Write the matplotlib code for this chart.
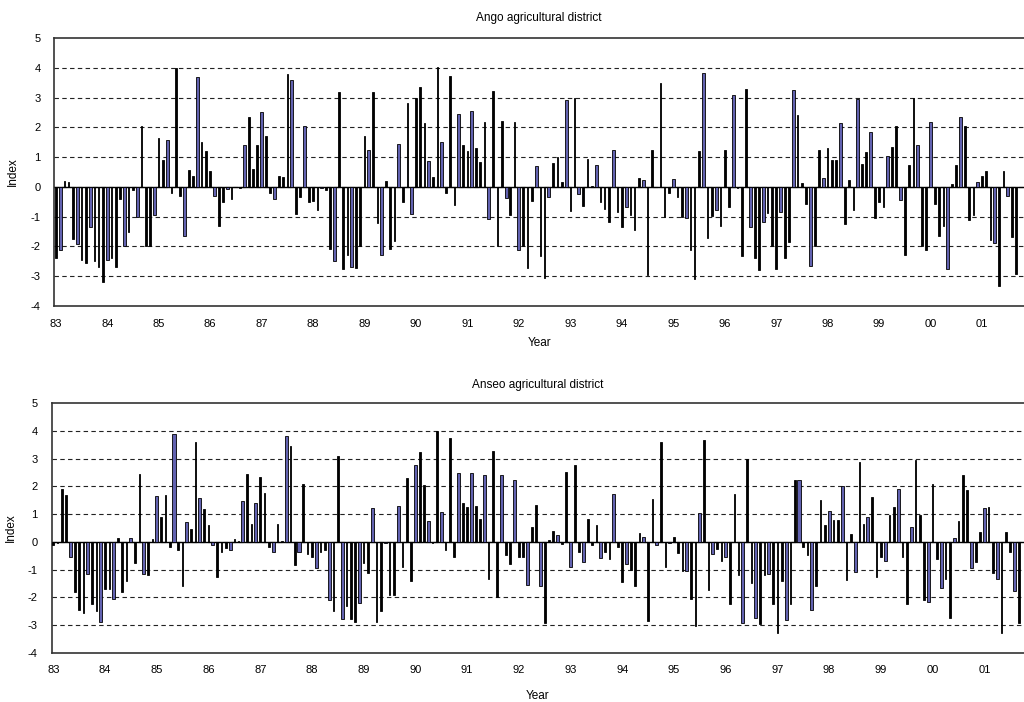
import numpy as np
import matplotlib.pyplot as plt

plt.rcParams['axes.unicode_minus'] = False
plt.rcParams['font.family'] = ['Liberation Sans', 'DejaVu Sans']

# monthly index, Jan 1983 - Sep 2001
years = ['83', '84', '85', '86', '87', '88', '89', '90', '91', '92',
         '93', '94', '95', '96', '97', '98', '99', '00', '01']

ango = [
    -2.37, -2.12, 0.2, 0.15, -1.75, -1.9, -2.45, -2.55, -1.35, -2.5, -2.7, -3.2,
    -2.45, -2.4, -2.7, -0.4, -2.0, -1.5, -0.1, -1.0, 2.05, -2.0, -2.0, -0.95,
    1.65, 0.9, 1.57, -0.2, 4.0, -0.3, -1.65, 0.58, 0.38, 3.7, 1.52, 1.2,
    0.55, -0.3, -1.3, -0.52, -0.08, -0.42, 0.0, -0.05, 1.42, 2.35, 0.6, 1.4,
    2.5, 1.7, -0.2, -0.4, 0.38, 0.32, 3.8, 3.6, -0.92, -0.35, 2.05, -0.5,
    -0.48, -0.78, -0.05, -0.1, -2.1, -2.5, 3.2, -2.77, -2.3, -2.7, -2.73, -2.0,
    1.72, 1.25, 3.2, -1.2, -2.3, 0.2, -2.1, -1.8, 1.45, -0.5, 2.8, -0.9,
    3.0, 3.35, 2.14, 0.86, 0.32, 4.03, 1.5, -0.2, 3.72, -0.6, 2.45, 1.4,
    1.22, 2.55, 1.3, 0.82, 2.17, -1.08, 3.22, -1.97, 2.2, -0.38, -0.93, 2.17,
    -2.13, -2.0, -2.73, -0.49, 0.71, -2.31, -3.06, -0.35, 0.8, 1.01, 0.16, 2.9,
    -0.8, 3.0, -0.23, -0.64, 0.92, 0.03, 0.73, -0.52, -0.74, -1.19, 1.25, -0.84,
    -1.34, -0.67, -0.93, -1.46, 0.29, 0.23, -2.97, 1.25, 0.0, 3.5, -1.0, -0.2,
    0.26, -0.35, -1.0, -1.05, -2.12, -3.08, 1.22, 3.82, -1.7, -0.99, -0.79, -1.3,
    1.25, -0.67, 3.08, -0.04, -2.33, 3.28, -1.35, -2.39, -2.8, -1.19, -0.86, -2.0,
    -2.77, -0.83, -2.4, -1.85, 3.25, 2.4, 0.14, -0.57, -2.67, -1.99, 1.25, 0.29,
    1.29, 0.9, 0.9, 2.13, -1.25, 0.22, -0.77, 2.94, 0.78, 1.18, 1.85, -1.06,
    -0.51, -0.68, 1.02, 1.35, 2.04, -0.44, -2.29, 0.75, 2.97, 1.4, -2.0, -2.12,
    2.19, -0.57, -1.64, -1.3, -2.74, 0.09, 0.75, 2.36, 2.04, -1.12, -0.93, 0.17,
    0.36, 0.55, -1.79, -1.89, -3.32, 0.55, -0.32, -1.67, -2.91,
]

anseo = [
    -0.1, -0.05, 1.92, 1.7, -0.55, -1.8, -2.45, -2.55, -1.15, -2.25, -2.5, -2.9,
    -1.7, -1.7, -2.05, 0.15, -1.8, -1.4, 0.15, -0.78, 2.45, -1.15, -1.2, 0.1,
    1.65, 0.88, 1.7, -0.2, 3.9, -0.28, -1.6, 0.73, 0.48, 3.62, 1.6, 1.2,
    0.6, -0.12, -1.28, -0.35, -0.22, -0.3, 0.1, 0.03, 1.48, 2.46, 0.63, 1.42,
    2.33, 1.78, -0.2, -0.38, 0.63, 0.03, 3.83, 3.45, -0.85, -0.35, 2.07, -0.45,
    -0.55, -0.93, -0.38, -0.3, -2.08, -2.5, 3.1, -2.78, -2.3, -2.8, -2.9, -2.2,
    -0.75, -1.14, 1.22, -2.9, -2.5, -0.05, -1.9, -1.9, 1.28, -0.9, 2.31, -1.4,
    2.78, 3.24, 2.06, 0.75, -0.05, 4.0, 1.07, -0.31, 3.74, -0.56, 2.47, 1.4,
    1.25, 2.49, 1.31, 0.82, 2.43, -1.34, 3.29, -2.0, 2.4, -0.48, -0.79, 2.23,
    -0.54, -0.53, -1.56, 0.52, 1.33, -1.59, -2.93, 0.05, 0.38, 0.25, -0.08, 2.53,
    -0.9, 2.76, -0.36, -0.73, 0.82, -0.1, 0.62, -0.6, -0.36, -0.62, 1.72, -0.2,
    -1.44, -0.8, -1.02, -1.59, 0.31, 0.18, -2.86, 1.55, -0.1, 3.6, -0.9, -0.05,
    0.19, -0.41, -1.05, -1.05, -2.05, -3.05, 1.04, 3.67, -1.72, -0.45, -0.25, -0.69,
    -0.53, -2.23, 1.72, -1.2, -2.92, 3.0, -1.48, -2.75, -2.95, -1.2, -1.17, -2.23,
    -3.3, -1.42, -2.81, -2.23, 2.23, 2.23, -0.17, -0.48, -2.45, -1.59, 1.51, 0.62,
    1.1, 0.79, 0.79, 2.02, -1.38, 0.28, -1.1, 2.88, 0.65, 0.9, 1.62, -1.27,
    -0.56, -0.69, 0.98, 1.27, 1.91, -0.53, -2.23, 0.52, 2.95, 0.98, -2.08, -2.17,
    2.09, -0.63, -1.66, -1.34, -2.75, 0.15, 0.76, 2.41, 1.88, -0.93, -0.74, 0.35,
    1.23, 1.27, -1.14, -1.34, -3.3, 0.35, -0.36, -1.78, -2.93,
]

# bars that show the blue fill in the original rendering
ango_blue = [1, 5, 8, 12, 16, 19, 23, 26, 30, 33, 37, 40, 44, 48, 51, 55, 58, 62,
             65, 69, 73, 76, 80, 83, 87, 90, 94, 97, 101, 105, 108, 112, 115, 119,
             122, 126, 130, 133, 137, 144, 147, 151, 154, 158, 162, 165, 169, 172,
             176, 179, 183, 187, 190, 194, 197, 201, 204, 208, 211, 215, 219, 222]
anseo_blue = [4, 8, 11, 14, 18, 21, 24, 28, 31, 34, 37, 41, 44, 47, 51, 54, 57, 61,
              64, 67, 71, 74, 77, 80, 84, 87, 90, 94, 97, 100, 104, 107, 110, 113,
              117, 120, 123, 127, 130, 133, 137, 140, 143, 147, 150, 153, 156, 160,
              163, 166, 170, 173, 176, 180, 183, 186, 189, 193, 196, 199, 203, 206,
              209, 213, 216, 219, 223]


def draw(ax, vals, blue, title, xlim, title_pad, xlabel_pad):
    x = np.arange(len(vals))
    colors = ['#6262b0' if i in blue else 'black' for i in x]
    widths = [0.7 if i in blue else 0.38 for i in x]
    ax.bar(x, vals, width=widths, color=colors, edgecolor='black',
           linewidth=0.6, zorder=3)
    for y in range(-3, 5):
        ax.axhline(y, color='#222222', lw=0.8, ls=(0, (4, 3)), zorder=1)
    ax.axhline(0, color='black', lw=1.0, zorder=2)
    ax.set_ylim(-4, 5)
    ax.set_xlim(*xlim)
    ax.set_yticks(range(-4, 6))
    ax.set_yticklabels([str(v) for v in range(-4, 6)])
    ax.set_xticks(np.arange(0, len(vals), 12))
    ax.set_xticklabels(years)
    ax.tick_params(axis='x', length=0, labelsize=8, pad=9)
    ax.tick_params(axis='y', length=0, labelsize=8, pad=10)
    ax.set_title(title, fontsize=8.5, pad=title_pad)
    ax.set_xlabel('Year', fontsize=8.5, labelpad=xlabel_pad)
    ax.set_ylabel('Index', fontsize=8.5, labelpad=8)
    ax.spines['right'].set_visible(False)
    for s in ['top', 'bottom', 'left']:
        ax.spines[s].set_color('#333333')
        ax.spines[s].set_linewidth(1.2)


fig = plt.figure(figsize=(10.24, 7.02), dpi=100)
ax1 = fig.add_axes([0.053, 0.564, 0.947, 0.382])
ax2 = fig.add_axes([0.0505, 0.0702, 0.9495, 0.3553])

draw(ax1, ango, ango_blue, 'Ango agricultural district', (-0.35, 225.8), 12, 6)
draw(ax2, anseo, anseo_blue, 'Anseo agricultural district', (-0.37, 225.2), 11, 11)

fig.savefig('out.png', dpi=100)
